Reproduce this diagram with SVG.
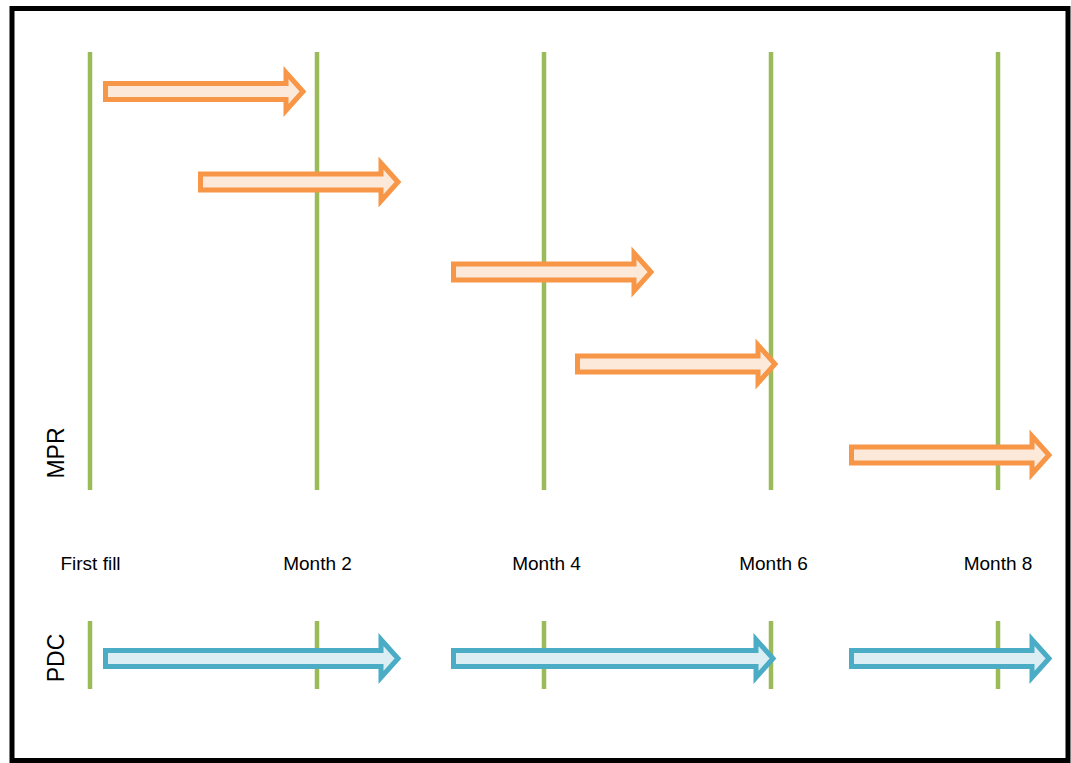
<svg xmlns="http://www.w3.org/2000/svg" width="1071" height="763" viewBox="0 0 1071 763">
<style>
.frame{fill:#fff;stroke:#000;stroke-width:5}
.tick{stroke:#9BBB59;stroke-width:4.5}
.mpr{fill:#FDE9D9;stroke:#F79646;stroke-width:5;stroke-linejoin:miter}
.pdc{fill:#DAEEF3;stroke:#4BACC6;stroke-width:5;stroke-linejoin:miter}
.lbl{font-family:"Liberation Sans",Arial,sans-serif;font-size:19px;fill:#000;text-anchor:middle}
.axis{font-family:"Liberation Sans",Arial,sans-serif;font-size:23px;fill:#000;text-anchor:middle}
</style>
<rect class="frame" x="12" y="8.5" width="1056" height="752"/>
<g id="timeline">
<line class="tick" x1="90" y1="52" x2="90" y2="490"/>
<line class="tick" x1="317" y1="52" x2="317" y2="490"/>
<line class="tick" x1="544" y1="52" x2="544" y2="490"/>
<line class="tick" x1="771" y1="52" x2="771" y2="490"/>
<line class="tick" x1="998" y1="52" x2="998" y2="490"/>
<line class="tick" x1="90" y1="621" x2="90" y2="689"/>
<line class="tick" x1="317" y1="621" x2="317" y2="689"/>
<line class="tick" x1="544" y1="621" x2="544" y2="689"/>
<line class="tick" x1="771" y1="621" x2="771" y2="689"/>
<line class="tick" x1="998" y1="621" x2="998" y2="689"/>
</g>
<g id="connectors">
<path class="mpr" d="M105.5,83.5 H286 V72.5 L303,91.5 L286,110.5 V99.5 H105.5 Z"/>
<path class="mpr" d="M200.5,174 H381 V163 L398,182 L381,201 V190 H200.5 Z"/>
<path class="mpr" d="M453.5,264 H634 V253 L651,272 L634,291 V280 H453.5 Z"/>
<path class="mpr" d="M577.5,356 H758 V345 L775,364 L758,383 V372 H577.5 Z"/>
<path class="mpr" d="M851.5,447 H1032 V436 L1049,455 L1032,474 V463 H851.5 Z"/>
<path class="pdc" d="M105.5,650.5 H381 V639.5 L398,658.5 L381,677.5 V666.5 H105.5 Z"/>
<path class="pdc" d="M453.5,650.5 H756 V639.5 L773,658.5 L756,677.5 V666.5 H453.5 Z"/>
<path class="pdc" d="M851.5,650.5 H1032 V639.5 L1049,658.5 L1032,677.5 V666.5 H851.5 Z"/>
</g>
<g id="labels">
<text class="axis" transform="translate(64,453) rotate(-90)">MPR</text>
<text class="axis" transform="translate(64,658) rotate(-90)">PDC</text>
<text class="lbl" x="90.5" y="570">First fill</text>
<text class="lbl" x="317.5" y="570">Month 2</text>
<text class="lbl" x="546.5" y="570">Month 4</text>
<text class="lbl" x="773.5" y="570">Month 6</text>
<text class="lbl" x="998" y="570">Month 8</text>
</g>
</svg>
